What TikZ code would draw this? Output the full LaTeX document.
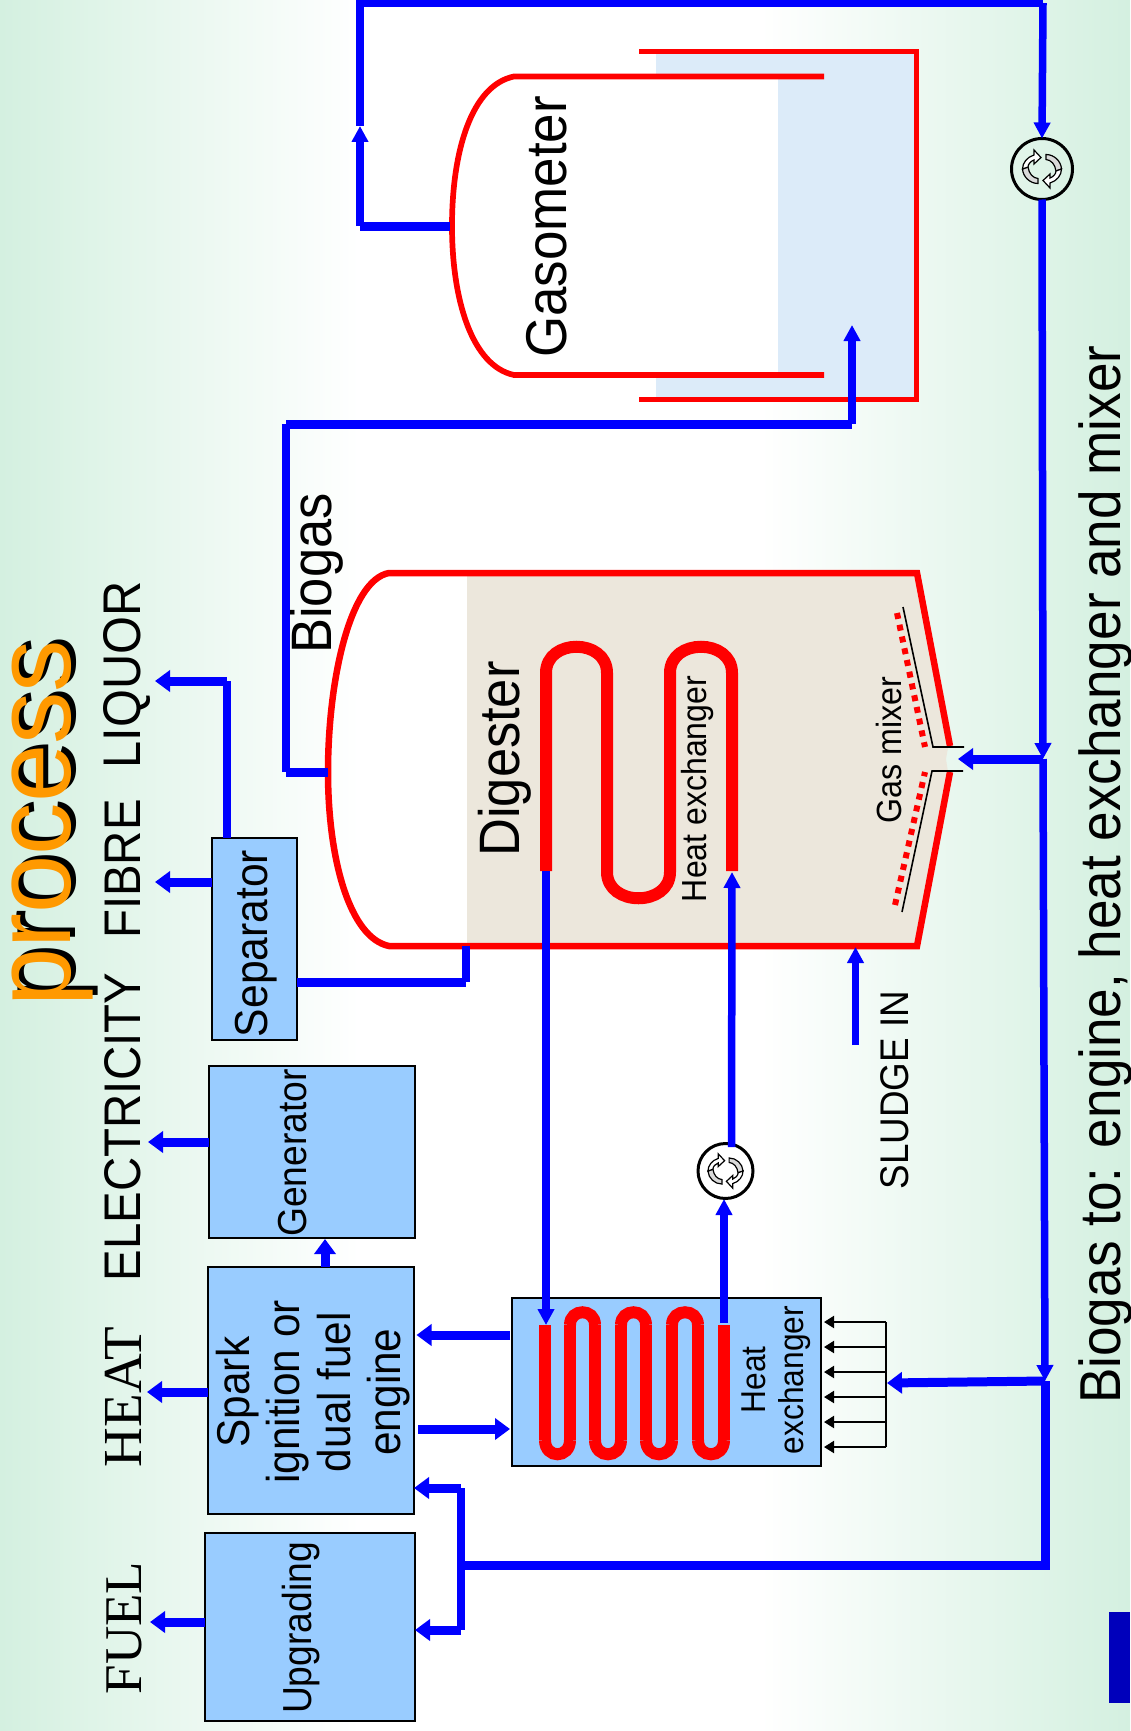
\documentclass[tikz,border=0pt]{standalone}
\usepackage{fontspec}
\setmainfont[FakeStretch=0.92]{Liberation Sans}
\newfontfamily\serifcaps{Liberation Serif}
\newfontfamily\titlefont[FakeStretch=0.96]{Liberation Sans}
\usetikzlibrary{arrows.meta}

\definecolor{bggreen}{RGB}{212,240,224}
\definecolor{boxblue}{RGB}{153,204,255}
\definecolor{pipeblue}{RGB}{0,0,255}
\definecolor{tabblue}{RGB}{0,0,187}
\definecolor{waterblue}{RGB}{220,235,249}
\definecolor{sludge}{RGB}{236,231,220}
\definecolor{titleorange}{RGB}{255,153,0}

\newcommand{\fs}[1]{\fontsize{#1}{#1}\selectfont}

\tikzset{
  lbl/.style={rotate=90,anchor=base,inner sep=0pt,text=black},
  procbox/.style={draw=black,fill=boxblue,line width=2pt,inner sep=0pt,outer sep=0pt},
  tank/.style={draw=red,line width=5.7pt},
  digtank/.style={draw=red,line width=6.5pt},
  coil/.style={draw=red,line width=12pt},
  pipe/.style={draw=pipeblue,line width=7.5pt},
  widepipe/.style={draw=pipeblue,line width=9pt},
  pipeto/.style={pipe,-{Triangle[length=16pt,width=16pt]}},
  widepipeto/.style={widepipe,-{Triangle[length=15pt,width=21pt]}},
  feed/.style={draw=black,line width=2pt,-{Triangle[length=10pt,width=12pt]}},
  pump/.style={circle,draw=black,line width=3pt,inner sep=0pt,outer sep=0pt},
  pumpicon/.pic={
    \foreach \r in {0,180}{
      \begin{scope}[rotate=\r,draw=black,line width=1.2pt]
        \filldraw[fill=gray!30] (4,-14.5) .. controls (12,-14.5) and (19,-8) .. (19.5,0)
          -- (14,2) .. controls (13,-5) and (9,-9) .. (4,-9.5) -- cycle;
        \filldraw[fill=white] (19.5,0) .. controls (19.5,6) and (15,12) .. (8,14)
          -- (8,19) -- (1,11.5) -- (8,5) -- (8,9) .. controls (11,8) and (14,5) .. (14,2) -- cycle;
      \end{scope}
    }
  }
}

\begin{document}
\begin{tikzpicture}[x=1pt,y=-1pt]

\useasboundingbox (0,0) rectangle (1130,1731);

% Background
\shade[left color=bggreen,right color=white] (0,0) rectangle (360,1731);
\fill[white] (360,0) rectangle (760,1731);
\shade[left color=white,right color=bggreen] (760,0) rectangle (1130,1731);
\fill[tabblue] (1109,1612) rectangle (1130,1703);

% Title
\node[lbl,text=black,font={\titlefont\fs{109}}] (titleshadow) at (75,819) {process};
\node[lbl,text=titleorange,font={\titlefont\fs{109}}] (title) at (70,823) {process};

% Gasometer
\fill[waterblue] (656,52) rectangle (916,399);
\fill[white] (656,76) rectangle (778,375);
\draw[tank] (639,51.5) -- (916.5,51.5) -- (916.5,399.5) -- (639,399.5);
\draw[tank] (824,76.5) -- (514,76.5) .. controls (472,85) and (452,150) .. (452,226)
  .. controls (452,300) and (472,366) .. (514,375) -- (824,375);
\node[lbl,font=\fs{57.5}] (gasometer) at (566,227) {Gasometer};

% Digester
\fill[sludge] (467,573) -- (917,573) -- (948,748) -- (946,759) -- (948,772) -- (917,946) -- (467,946) -- cycle;
\draw[digtank] (950,746) -- (917,573) -- (389,573) .. controls (350,580) and (328,680) .. (328,772)
  .. controls (328,860) and (350,938) .. (389,946) -- (917,946) -- (950,772);
\node[lbl,font=\fs{57}] (digester) at (519,759) {Digester};

% Digester coil
\draw[coil] (546,871) -- (546,673) .. controls +(0,-35) and +(0,-35) .. (607,673) -- (607,872)
  .. controls +(0,35) and +(0,35) .. (670,872) -- (670,673)
  .. controls +(0,-35) and +(0,-35) .. (732,673) -- (732,871);
\node[lbl,font=\fs{34.8}] (coillbl) at (706,789) {Heat exchanger};

% Gas mixer
\draw[black,line width=1.6pt] (903,607) -- (933,747) -- (964,747);
\draw[black,line width=1.6pt] (902,912) -- (932,771) -- (963,771);
\draw[red,line width=6pt,dash pattern=on 6pt off 6pt] (897,613) -- (925,747);
\draw[red,line width=6pt,dash pattern=on 6pt off 6pt] (895,905) -- (925,772);
\node[lbl,font=\fs{35}] (mixerlbl) at (901,750) {Gas mixer};

% Boxes
\node[procbox,minimum width=85pt,minimum height=202pt] (separator) at (254.5,939) {};
\node[procbox,minimum width=206pt,minimum height=172pt] (generator) at (312,1152) {};
\node[procbox,minimum width=206pt,minimum height=247pt] (engine) at (311,1390.5) {};
\node[procbox,minimum width=210pt,minimum height=188pt] (upgrading) at (310,1627) {};
\node[procbox,minimum width=309pt,minimum height=168pt] (hxbox) at (666.5,1382) {};

\node[lbl,font=\fs{46.3}] (separatorlbl) at (267,943.5) {Separator};
\node[lbl,font=\fs{40.5}] (generatorlbl) at (306,1153) {Generator};
\node[rotate=90,inner sep=0pt,align=center,font=\fontsize{46}{50.5}\selectfont] (enginelbl) at (313,1392) {Spark\\ignition or\\dual fuel\\engine};
\node[lbl,font=\fs{40.5}] (upgradinglbl) at (311,1628) {Upgrading};
\node[lbl,font=\fs{34.5}] (hxlbla) at (765,1380) {Heat};
\node[lbl,font=\fs{34.5}] (hxlblb) at (803,1380) {exchanger};

% Exchanger coil
\foreach \x in {545,570,595,621,646,672,698,724}
{
\draw[coil] (\x,1325) -- (\x,1440);
}
\foreach \xa/\xb in {545/570,595/621,646/672,698/724}
{
\draw[coil] (\xa,1440) .. controls +(0,19) and +(0,19) .. (\xb,1440);
}
\foreach \xa/\xb in {570/595,621/646,672/698}
{
\draw[coil] (\xa,1325) .. controls +(0,-17) and +(0,-17) .. (\xb,1325);
}

% Pumps
\node[pump,minimum size=61pt] (pumpa) at (1042,169) {};
\node[pump,minimum size=55pt] (pumpb) at (725.5,1171) {};
\pic at (pumpa) {pumpicon};
\pic[scale=0.9] at (pumpb) {pumpicon};

% Labels
\node[lbl,font=\fs{53}] (liquor) at (140,675) {LIQUOR};
\node[lbl,font=\fs{51.5}] (fibre) at (140,869) {FIBRE};
\node[lbl,font=\fs{51.5}] (electricity) at (140,1127) {ELECTRICITY};
\node[lbl,font={\serifcaps\fs{55}}] (heat) at (141,1397) {HEAT};
\node[lbl,font={\serifcaps\fs{53}}] (fuel) at (141,1628) {FUEL};
\node[lbl,font=\fs{57}] (biogas) at (331,573.5) {Biogas};
\node[lbl,font=\fs{40}] (sludgein) at (908,1090) {SLUDGE IN};
\node[lbl,font=\fs{57.7}] (caption) at (1120,874.5) {Biogas to: engine, heat exchanger and mixer};

% Pipe points
\coordinate (gasout) at (450,226);
\coordinate (gasturn) at (360,226);
\coordinate (gastip) at (360,126);
\coordinate (gascorner) at (360,3);
\coordinate (mains) at (1043,3);
\coordinate (teea) at (1043,759);
\coordinate (teeb) at (1045,1381);
\coordinate (mainsend) at (1045,1565);
\coordinate (collector) at (461,1565);
\coordinate (collectora) at (461,1488);
\coordinate (collectorb) at (461,1630);
\coordinate (mixertip) at (958,759);
\coordinate (manifoldtip) at (887,1383);
\coordinate (digout) at (328,772);
\coordinate (digturn) at (286,772);
\coordinate (digcorner) at (286,424);
\coordinate (gascornerb) at (852,424);
\coordinate (gasin) at (852,325);
\coordinate (liquorcorner) at (227,681);
\coordinate (liquortip) at (155,681);
\coordinate (fibretip) at (155,882);
\coordinate (electip) at (148,1142);
\coordinate (heattip) at (147,1392);
\coordinate (fueltip) at (150,1622);
\coordinate (gentip) at (325,1239);
\coordinate (hotout) at (510,1335);
\coordinate (hotin) at (416.5,1335);
\coordinate (coldout) at (418,1429);
\coordinate (coldin) at (510,1429);
\coordinate (sepout) at (466,982);
\coordinate (sepin) at (466,946);
\coordinate (coilend) at (546,871);
\coordinate (coilstart) at (546,1325);
\coordinate (hxout) at (724,1323);
\coordinate (pumpbin) at (724,1199);
\coordinate (pumpbout) at (731.5,1147);
\coordinate (coilreturn) at (732,872);
\coordinate (sludgefrom) at (855.5,1045);
\coordinate (sludgeto) at (855.5,947);

% Pipes
\draw[widepipe] (gasout) -- (gasturn);
\draw[pipeto] (gasturn) -- (gastip);
\draw[pipe] (gastip) -- (gascorner) -- (mains);
\draw[pipeto] (mains) -- (pumpa.north);
\draw[pipeto] (pumpa.south) -- (teea);
\draw[pipeto] (teea) -- (teeb);
\draw[widepipe] (teeb) -- (mainsend) -- (collector);
\draw[pipe] (collectora) -- (collectorb);
\draw[widepipeto] (collectora) -- (collectora -| engine.east);
\draw[widepipeto] (collectorb) -- (collectorb -| upgrading.east);
\draw[widepipeto] (teea) -- (mixertip);
\draw[widepipeto] (teeb) -- (manifoldtip);

\draw[widepipe] (digout) -- (digturn);
\draw[pipe] (digturn) -- (digcorner);
\draw[widepipe] (digcorner) -- (gascornerb);
\draw[pipeto] (gascornerb) -- (gasin);

\draw[pipe] (liquorcorner |- separator.north) -- (liquorcorner);
\draw[widepipeto] (liquorcorner) -- (liquortip);
\draw[widepipeto] (fibretip -| separator.west) -- (fibretip);
\draw[widepipeto] (electip -| generator.west) -- (electip);
\draw[widepipeto] (heattip -| engine.west) -- (heattip);
\draw[widepipeto] (fueltip -| upgrading.west) -- (fueltip);
\draw[widepipeto] (gentip |- engine.north) -- (gentip);
\draw[widepipeto] (hotout) -- (hotin);
\draw[widepipeto] (coldout) -- (coldin);
\draw[widepipe] (sepout -| separator.east) -- (sepout);
\draw[pipe] (sepout) -- (sepin);

\draw[pipeto] (coilend) -- (coilstart);
\draw[pipeto] (hxout) -- (pumpbin);
\draw[pipeto] (pumpbout) -- (coilreturn);
\draw[pipeto] (sludgefrom) -- (sludgeto);

% Air feed
\coordinate (feedtop) at (886,1322);
\coordinate (feedbot) at (886,1447);
\draw[black,line width=2pt] (feedtop) -- (feedbot);
\foreach \y in {1322,1347,1372,1397,1422,1447}
{
\draw[feed] (886,\y) -- (824,\y);
}

\end{tikzpicture}
\end{document}
